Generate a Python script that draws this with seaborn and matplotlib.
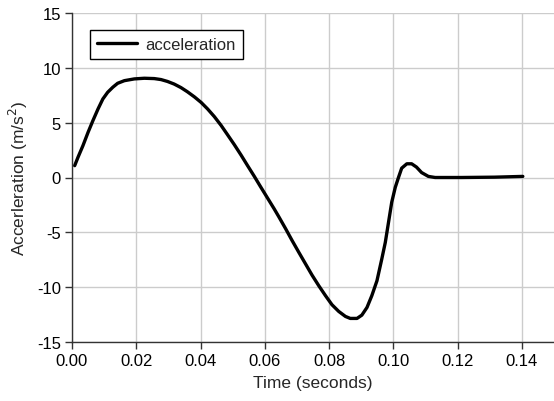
import matplotlib
matplotlib.use('Agg')
import matplotlib.pyplot as plt
import numpy as np
import pandas as pd
import seaborn as sns

# values
time_s = [0.00083, 0.00186, 0.0034, 0.005, 0.0065, 0.0081, 0.0096, 0.0111,
          0.0127, 0.0142, 0.0163, 0.0194, 0.0225, 0.0256, 0.0277, 0.0297,
          0.0318, 0.0339, 0.0359, 0.0381, 0.0402, 0.0422, 0.0443, 0.0464,
          0.0484, 0.0505, 0.0526, 0.0546, 0.0567, 0.0587, 0.0608, 0.0629,
          0.0644, 0.0665, 0.0685, 0.0706, 0.0727, 0.0747, 0.0768, 0.0789,
          0.0809, 0.083, 0.0851, 0.0866, 0.0887, 0.0902, 0.0918, 0.0933,
          0.0949, 0.0964, 0.0975, 0.0985, 0.0995, 0.1006, 0.1016, 0.1026,
          0.1042, 0.1057, 0.1072, 0.1088, 0.1109, 0.113, 0.1212, 0.1315,
          0.1403]
accel = [1.08, 1.84, 2.9, 4.12, 5.18, 6.25, 7.16, 7.77,
         8.23, 8.59, 8.83, 8.99, 9.05, 9.02, 8.93, 8.76,
         8.52, 8.2, 7.82, 7.35, 6.84, 6.25, 5.55, 4.75,
         3.9, 3.0, 2.05, 1.1, 0.12, -0.85, -1.85, -2.85,
         -3.6, -4.68, -5.75, -6.83, -7.89, -8.9, -9.87, -10.78,
         -11.6, -12.21, -12.67, -12.85, -12.85, -12.55, -11.85, -10.78,
         -9.42, -7.44, -5.92, -4.09, -2.26, -0.9, 0.0, 0.85,
         1.25, 1.25, 0.95, 0.45, 0.1, 0.0, 0.0, 0.03,
         0.1]
x_ticks = [0.00, 0.02, 0.04, 0.06, 0.08, 0.10, 0.12, 0.14]
y_ticks = [-15, -10, -5, 0, 5, 10, 15]

df = pd.DataFrame({'time': time_s, 'acceleration': accel})

sns.set_theme(style='whitegrid')
plt.rcParams['font.family'] = ['Liberation Sans', 'DejaVu Sans']

fig = plt.figure(figsize=(5.54, 4.02), dpi=100)
ax = fig.add_axes([72 / 554, 59 / 402, 1 - 72 / 554, 329 / 402])

sns.lineplot(data=df, x='time', y='acceleration', color='black',
             linewidth=2.4, label='acceleration', ax=ax)

ax.set_xlim(0, 0.15)
ax.set_ylim(-15, 15)
ax.set_xticks(x_ticks)
ax.set_xticklabels([f'{v:.2f}' for v in x_ticks])
ax.set_yticks(y_ticks)
ax.set_yticklabels([str(v) for v in y_ticks])

ax.grid(True, color='#cccccc', linewidth=1.0)
for side in ['top', 'right']:
    ax.spines[side].set_visible(False)
for side in ['left', 'bottom']:
    ax.spines[side].set_color('#333333')
    ax.spines[side].set_linewidth(1.0)

ax.tick_params(axis='both', which='major', labelsize=12, colors='#000000',
               length=5, width=1, direction='out', pad=3)
ax.tick_params(axis='both', color='#333333')
ax.tick_params(left=True, bottom=True)

ax.set_xlabel('Time (seconds)', fontsize=12.5, labelpad=5)
ax.set_ylabel('Accerleration (m/s$^2$)', fontsize=12.5, labelpad=5)

leg = ax.legend(loc='upper left', bbox_to_anchor=(0.037, 0.948), fontsize=12,
                borderaxespad=0, frameon=True, fancybox=False,
                edgecolor='black', handlelength=2.4, borderpad=0.42,
                handletextpad=0.5)
leg.get_frame().set_linewidth(1.0)
leg.get_frame().set_alpha(1)

fig.savefig('out.png', dpi=100)
